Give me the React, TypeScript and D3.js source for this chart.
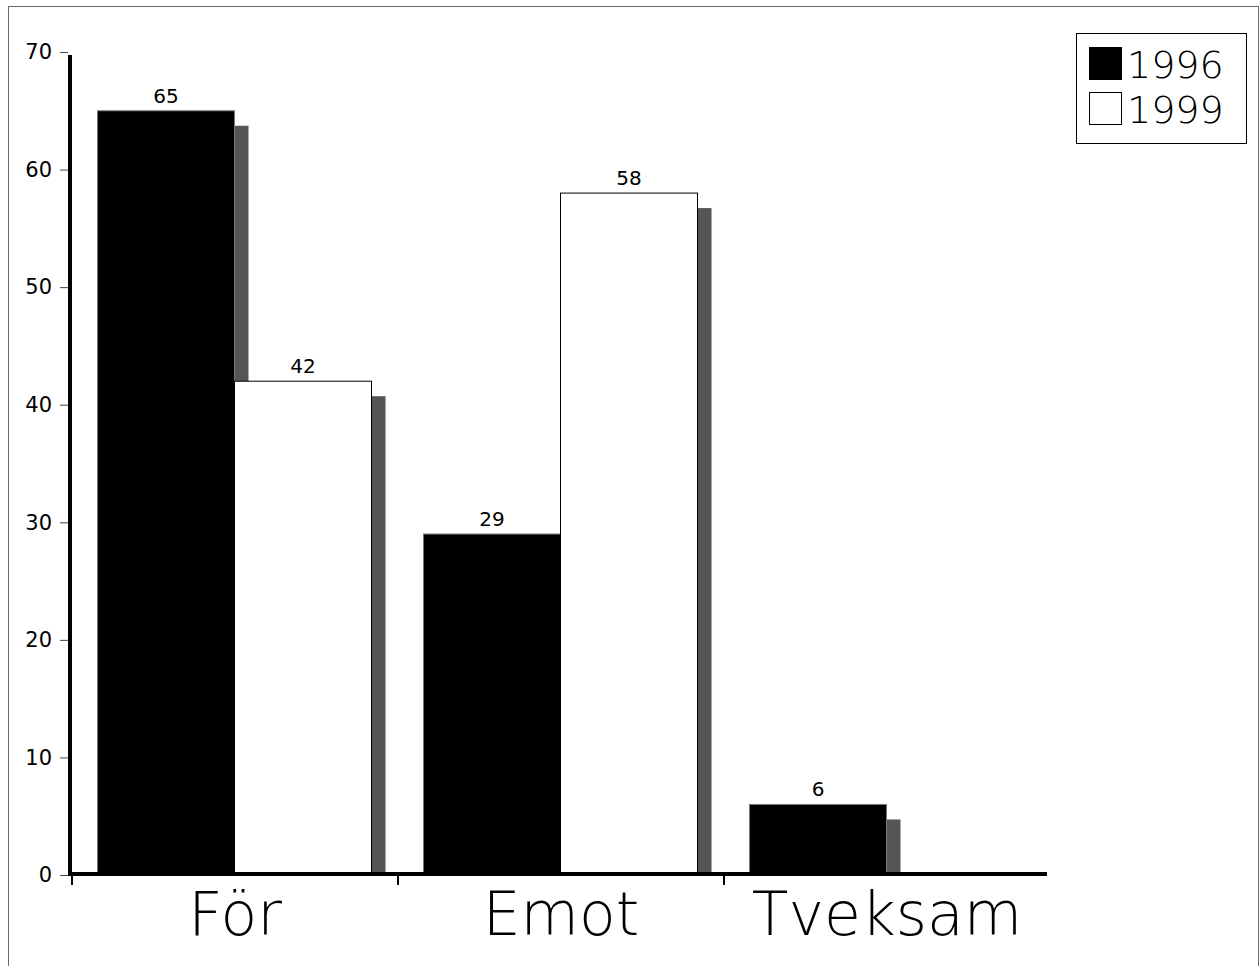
import React, { useEffect, useRef } from 'react';
import * as d3 from 'd3';

const categories = ['För', 'Emot', 'Tveksam'];
const seriesNames = ['1996', '1999'];
const values1996 = [65, 29, 6];
const values1999 = [42, 58, 0];
const yTicks = [0, 10, 20, 30, 40, 50, 60, 70];

const fillFor: Record<string, string> = { '1996': '#000', '1999': '#fff' };

const App = () => {
  const svgRef = useRef<SVGSVGElement>(null);

  useEffect(() => {
    const svg = d3.select(svgRef.current);
    svg.selectAll('*').remove();
    const font = 'DejaVu Sans, Verdana, sans-serif';

    // outer frame
    svg.append('rect')
      .attr('x', 8.5).attr('y', 6.5)
      .attr('width', 1250).attr('height', 990)
      .attr('fill', 'none').attr('stroke', '#666').attr('stroke-width', 1);

    const y = d3.scaleLinear().domain([0, 70]).range([875, 52]);
    const x0 = d3.scaleBand<string>().domain(categories).range([72, 1050]);
    const x1 = d3.scaleBand<string>().domain(seriesNames).range([25.5, 299.5]);

    const data = categories.map((c, i) => ({
      cat: c,
      bars: [
        { s: '1996', v: values1996[i] },
        { s: '1999', v: values1999[i] },
      ],
    }));

    // bars with drop shadows
    data.forEach((d) => {
      const g = svg.append('g').attr('transform', `translate(${x0(d.cat)},0)`);
      d.bars.forEach((b) => {
        if (!b.v) return;
        const bx = x1(b.s) as number;
        const bw = x1.bandwidth();
        const top = y(b.v);
        g.append('rect')
          .attr('x', bx + 14).attr('y', top + 15)
          .attr('width', bw).attr('height', y(0) - top - 15)
          .attr('fill', '#555');
        g.append('rect')
          .attr('x', bx).attr('y', top)
          .attr('width', bw).attr('height', y(0) - top)
          .attr('fill', fillFor[b.s])
          .attr('stroke', b.s === '1996' ? '#777' : '#000')
          .attr('stroke-width', 1);
        g.append('text')
          .attr('x', bx + bw / 2).attr('y', top - 8)
          .attr('text-anchor', 'middle')
          .attr('font-family', font).attr('font-size', 20)
          .text(b.v);
      });
    });

    // y axis
    const yAxis = svg.append('g').attr('transform', 'translate(68,0)')
      .call(d3.axisLeft(y).tickValues(yTicks).tickSize(8).tickPadding(8));
    yAxis.select('.domain').remove();
    yAxis.selectAll('line').attr('stroke', '#444');
    yAxis.selectAll('text')
      .attr('font-family', font).attr('font-size', 21).attr('fill', '#000');
    svg.append('line')
      .attr('x1', 70).attr('x2', 70).attr('y1', 55).attr('y2', 876)
      .attr('stroke', '#000').attr('stroke-width', 4);

    // x axis
    svg.append('line')
      .attr('x1', 68).attr('x2', 1047).attr('y1', 874).attr('y2', 874)
      .attr('stroke', '#000').attr('stroke-width', 4);
    categories.forEach((c) => {
      const xs = x0(c) as number;
      svg.append('line')
        .attr('x1', xs).attr('x2', xs).attr('y1', 876).attr('y2', 885)
        .attr('stroke', '#000').attr('stroke-width', 2);
      svg.append('text')
        .attr('x', xs + x0.bandwidth() / 2).attr('y', 935)
        .attr('text-anchor', 'middle')
        .attr('font-family', font).attr('font-size', 60).attr('font-weight', 200)
        .text(c);
    });

    // legend
    const lg = svg.append('g');
    lg.append('rect')
      .attr('x', 1076.5).attr('y', 33.5).attr('width', 170).attr('height', 110)
      .attr('fill', '#fff').attr('stroke', '#000');
    seriesNames.forEach((s, i) => {
      lg.append('rect')
        .attr('x', 1089.5).attr('y', 47.5 + i * 45).attr('width', 32).attr('height', 32)
        .attr('fill', fillFor[s]).attr('stroke', '#000');
      lg.append('text')
        .attr('x', 1127).attr('y', 78 + i * 45)
        .attr('font-family', font).attr('font-size', 38).attr('font-weight', 200)
        .text(s);
    });
  }, []);

  return (
    <svg
      ref={svgRef}
      width={1260}
      height={966}
      style={{ position: 'absolute', left: 0, top: 0, background: '#fff' }}
    />
  );
};

export default App;
